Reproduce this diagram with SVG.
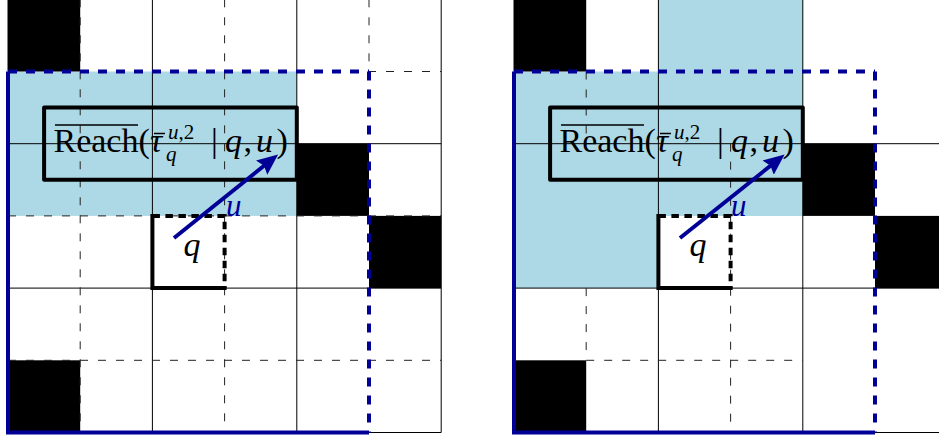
<svg xmlns="http://www.w3.org/2000/svg" width="939" height="439" viewBox="0 0 939 439">
<style>
.thin{stroke:#000;stroke-width:1;fill:none}
.dash{stroke:#222;stroke-width:1;stroke-dasharray:8 10;fill:none}
.reg{fill:#add8e6}
.blk{fill:#000}
.bsolid{stroke:#000096;stroke-width:4;fill:none}
.bdash{stroke:#000096;stroke-width:4;stroke-dasharray:9 9;fill:none}
.box{stroke:#000;stroke-width:4;fill:none;stroke-linejoin:round}
.qs{stroke:#000;stroke-width:4;fill:none;stroke-linecap:square}
.qd{stroke:#000;stroke-width:4;fill:none;stroke-dasharray:7.5 5.5}
.arr{stroke:#000096;stroke-width:4;fill:none;marker-end:url(#ah)}
.m{font-family:"Liberation Serif","Times New Roman",serif;fill:#000}
.it{font-style:italic}
.bar{stroke:#000;fill:none}
.ul{font-family:"Liberation Serif","Times New Roman",serif;font-style:italic;fill:#000096;font-size:31px}
.ql{font-family:"Liberation Serif","Times New Roman",serif;font-style:italic;fill:#000;font-size:34px;text-anchor:middle}
</style>
<defs>
<marker id="ah" markerUnits="userSpaceOnUse" viewBox="0 -9.5 21 19" markerWidth="21" markerHeight="19" refX="9" refY="0" orient="auto">
<path d="M0,-9 L21,0 L0,9 L3,0 Z" fill="#000096"/>
</marker>
<g id="lbl">
<path class="bar" stroke-width="1.3" d="M55,125 H138"/>
<path class="bar" stroke-width="1.5" d="M154,133.5 H165"/>
<text class="m" font-size="34" y="152"><tspan x="53.5">Reach</tspan><tspan x="138.5">(</tspan><tspan x="150" class="it">τ</tspan><tspan x="168" y="139" font-size="21" class="it">u</tspan><tspan y="139" font-size="21">,2</tspan><tspan x="166" y="161" font-size="21" class="it">q</tspan><tspan x="211" y="152">|</tspan><tspan x="225" class="it">q</tspan><tspan x="243.5">,</tspan><tspan x="256" class="it">u</tspan><tspan x="276.5">)</tspan></text>
</g>
</defs>
<rect width="939" height="439" fill="#fff"/>

<g id="left-grid">
<rect class="reg" x="8" y="71.5" width="288.8" height="144.4"/>
<rect class="blk" x="8" y="-0.7" width="72.2" height="72.2"/>
<rect class="blk" x="296.8" y="143.7" width="72.2" height="72.2"/>
<rect class="blk" x="369" y="215.9" width="72.2" height="72.2"/>
<rect class="blk" x="8" y="360.3" width="72.2" height="72.2"/>
<path class="thin" d="M8,-1 V71.5 M152.4,-1 V432.5 M296.8,-1 V432.5 M441.2,-1 V432.5 M8,143.7 H441.2 M8,288.1 H441.2 M369,432.5 H441.2"/>
<path class="dash" d="M80.2,-0.7 V432.5 M224.6,-0.7 V432.5 M369,-0.7 V71.5 M8,71.5 H441.2 M8,215.9 H441.2 M8,360.3 H441.2"/>
</g>

<g id="right-grid">
<path class="reg" d="M658.4,-1 H802.8 V215.9 H658.4 V288.1 H514 V71.5 H658.4 Z"/>
<rect class="blk" x="514" y="-0.7" width="72.2" height="72.2"/>
<rect class="blk" x="802.8" y="143.7" width="72.2" height="72.2"/>
<rect class="blk" x="875" y="215.9" width="72.2" height="72.2"/>
<rect class="blk" x="514" y="360.3" width="72.2" height="72.2"/>
<path class="thin" d="M514,-1 V71.5 M658.4,-1 V432.5 M802.8,-1 V432.5 M514,143.7 H939 M514,288.1 H939 M875,432.5 H939"/>
<path class="dash" d="M586.2,71.5 V143.7 M586.2,288.1 V360.3 M730.6,143.7 V432.5 M586.2,360.3 H802.8"/>
</g>

<g id="label-left"><use href="#lbl"/><rect class="box" x="44.1" y="107.6" width="252.7" height="72.2"/></g>
<g id="label-right" transform="translate(506,0)"><use href="#lbl"/><rect class="box" x="44.1" y="107.6" width="252.7" height="72.2"/></g>

<g id="q-left">
<path class="qs" d="M224.6,288.1 H152.4 V215.9"/>
<path class="qd" d="M152.4,215.9 H224.6 V288.1"/>
<text class="ql" x="192" y="256">q</text>
</g>
<g id="q-right" transform="translate(506,0)">
<path class="qs" d="M224.6,288.1 H152.4 V215.9"/>
<path class="qd" d="M152.4,215.9 H224.6 V288.1"/>
<text class="ql" x="192" y="256">q</text>
</g>

<g id="region-left">
<path class="bsolid" d="M8,71.5 V432.5 H369"/>
<path class="bdash" d="M8,71.5 H369 M369,71.5 V432.5"/>
</g>
<g id="region-right">
<path class="bsolid" d="M514,71.5 V432.5 H875"/>
<path class="bdash" d="M514,71.5 H875 M875,71.5 V432.5"/>
</g>

<g id="connectors">
<path class="arr" d="M174,238 L268.7,162"/>
<path class="arr" d="M680,238 L775.2,162"/>
<text class="ul" x="226" y="216">u</text>
<text class="ul" x="731" y="216">u</text>
</g>
</svg>
